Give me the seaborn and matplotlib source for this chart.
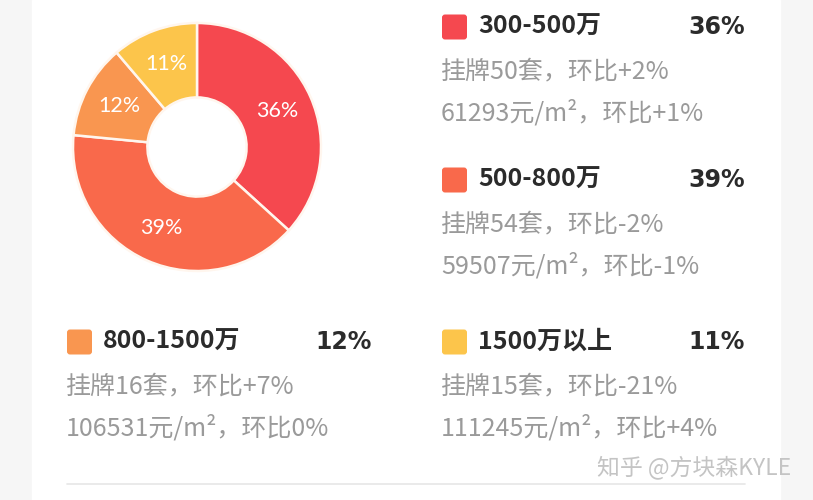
import matplotlib.pyplot as plt
import seaborn as sns
import numpy as np
from matplotlib.patches import FancyBboxPatch, Rectangle

# price bands, share of listings and the detail lines under each legend entry
bands = ['300-500万', '500-800万', '800-1500万', '1500万以上']
shares = [36, 39, 12, 11]
listings = ['挂牌50套，环比+2%', '挂牌54套，环比-2%', '挂牌16套，环比+7%', '挂牌15套，环比-21%']
prices = ['61293元/m²，环比+1%', '59507元/m²，环比-1%', '106531元/m²，环比0%', '111245元/m²，环比+4%']
colors = ['#F5484F', '#F9694B', '#F99650', '#FCC54B']

W, H = 813, 500

sns.set_theme(style='white')
plt.rcParams['font.family'] = ['Noto Sans CJK SC', 'DejaVu Sans']

fig = plt.figure(figsize=(W / 100, H / 100), dpi=100)
fig.patch.set_facecolor('#F6F6F6')

# white card
card = fig.add_axes([0, 0, 1, 1])
card.set_xlim(0, W)
card.set_ylim(H, 0)
card.axis('off')
card.add_patch(Rectangle((32, 0), 748, H, color='white', zorder=0))
card.plot([67, 745], [484, 484], color='#E6E6E6', lw=1.2)

# donut
ax = fig.add_axes([73 / W, 1 - 271 / H, 248 / W, 248 / H])
palette = sns.color_palette(colors)
wedges, _ = ax.pie(shares, colors=palette, startangle=90, counterclock=False,
                   radius=1, wedgeprops=dict(width=0.6, edgecolor='#FFF6EE', linewidth=1.8))
ax.set_xlim(-1, 1)
ax.set_ylim(-1, 1)
ax.set_aspect('equal')
for w, s in zip(wedges, shares):
    mid = np.deg2rad((w.theta1 + w.theta2) / 2)
    ax.text(0.71 * np.cos(mid), 0.71 * np.sin(mid), f'{s}%', color='white',
            ha='center', va='center', fontsize=15.5, family=['Lato', 'DejaVu Sans'])

# legend blocks: (square x, title row y)
blocks = [(442, 27), (442, 180), (67, 342), (442, 342)]
right_edges = [745, 745, 372, 745]
for (x0, y0), xr, band, s, l1, l2, c in zip(blocks, right_edges, bands, shares, listings, prices, colors):
    card.add_patch(FancyBboxPatch((x0 + 3, y0 - 9.5), 19, 19,
                                  boxstyle='round,pad=3', color=c, lw=0))
    card.text(x0 + 36, y0, band, fontsize=18, fontweight='bold', color='#2B2B2B',
              ha='left', va='center')
    card.text(xr, y0, f'{s}%', fontsize=17, fontweight='bold', color='#2B2B2B',
              ha='right', va='center', family=['DejaVu Sans'])
    card.text(x0 - 1, y0 + 44, l1, fontsize=18, color='#9A9A9A', ha='left', va='center')
    card.text(x0 - 1, y0 + 86, l2, fontsize=18, color='#9A9A9A', ha='left', va='center')

# watermark
card.text(791, 467, '知乎 @方块森KYLE', fontsize=16.5, color='#C4C4C4',
          ha='right', va='center')

fig.savefig('out.png', dpi=100, facecolor=fig.get_facecolor())
